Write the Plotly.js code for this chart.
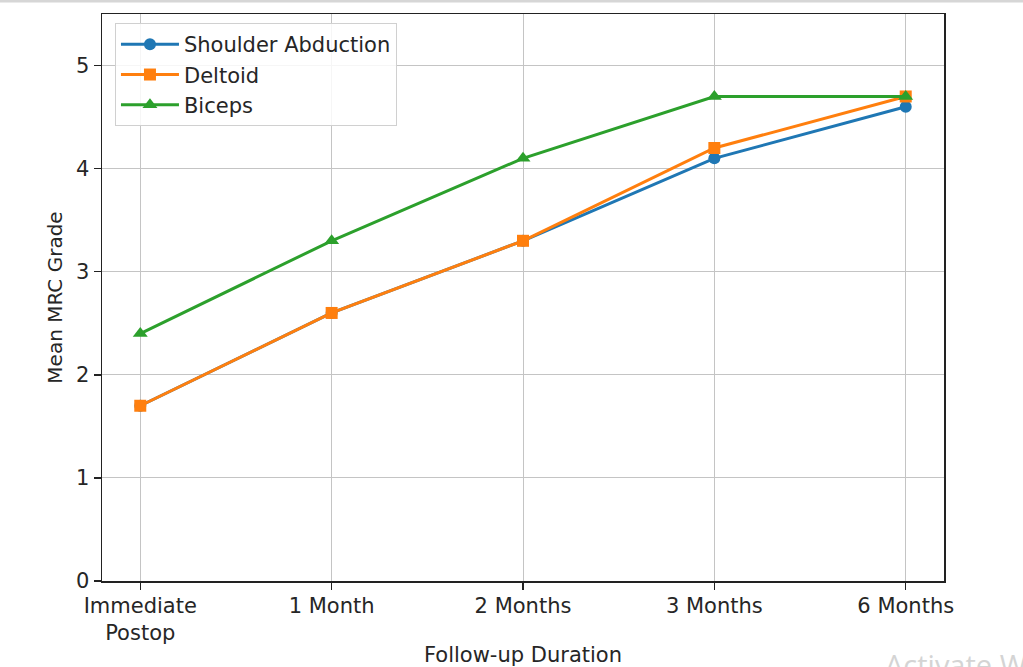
<!DOCTYPE html>
<html>
<head>
<meta charset="utf-8">
<script src="https://cdn.plot.ly/plotly-3.0.1.min.js"></script>
<style>
html,body{margin:0;padding:0;background:#fff;}
#chart{width:1023px;height:667px;}
</style>
</head>
<body>
<div id="chart"></div>
<script>
// Data
const categories = ["Immediate<br>Postop", "1 Month", "2 Months", "3 Months", "6 Months"];
const shoulderAbduction = [1.7, 2.6, 3.3, 4.1, 4.6];
const deltoid = [1.7, 2.6, 3.3, 4.2, 4.7];
const biceps = [2.4, 3.3, 4.1, 4.7, 4.7];
const seriesNames = ["Shoulder Abduction", "Deltoid", "Biceps"];
const yTicks = [0, 1, 2, 3, 4, 5];

const colors = ["#1f77b4", "#ff7f0e", "#2ca02c"];
const symbols = ["circle", "square", "triangle-up"];
const allSeries = [shoulderAbduction, deltoid, biceps];

const traces = allSeries.map((vals, i) => ({
  type: "scatter",
  mode: "lines+markers",
  x: categories,
  y: vals,
  name: seriesNames[i],
  line: {color: colors[i], width: 3},
  marker: {color: colors[i], symbol: symbols[i], size: i === 2 ? 13 : 12}
}));

const fam = "DejaVu Sans, sans-serif";
const txt = "#262626";

const layout = {
  width: 1023,
  height: 667,
  paper_bgcolor: "#ffffff",
  plot_bgcolor: "#ffffff",
  font: {family: fam, size: 21, color: txt},
  showlegend: true,
  margin: {l: 102, r: 79, t: 14, b: 86, pad: 0},
  xaxis: {
    type: "category",
    range: [-0.2, 4.2],
    showline: true, mirror: true, linecolor: "#222", linewidth: 1.5,
    ticks: "outside", ticklen: 7, tickcolor: "#222", tickwidth: 1.5,
    showgrid: true, gridcolor: "#c4c4c4", gridwidth: 1,
    zeroline: false,
    tickfont: {family: fam, size: 21, color: txt},
    ticklabelstandoff: -2,
    automargin: false,
    title: {text: "Follow-up Duration", font: {family: fam, size: 21, color: txt}, standoff: 8}
  },
  yaxis: {
    range: [0, 5.5],
    tickvals: yTicks,
    ticktext: yTicks.map(String),
    showline: true, mirror: true, linecolor: "#222", linewidth: 1.5,
    ticks: "outside", ticklen: 7, tickcolor: "#222", tickwidth: 1.5,
    showgrid: true, gridcolor: "#c4c4c4", gridwidth: 1,
    zeroline: false,
    tickfont: {family: fam, size: 21, color: txt},
    automargin: false,
    title: {text: "Mean MRC Grade", font: {family: fam, size: 20, color: txt}, standoff: 8}
  },
  legend: {
    x: 0.0154, y: 0.984, xanchor: "left", yanchor: "top",
    bgcolor: "rgba(255,255,255,0.85)",
    bordercolor: "#d0d0d0", borderwidth: 1,
    font: {family: fam, size: 21, color: txt},
    itemwidth: 58,
    tracegroupgap: 0
  },
  shapes: [{
    type: "rect", xref: "paper", yref: "paper",
    x0: -102/842, x1: (1023-102)/842,
    y0: 1 + 11.5/567, y1: 1 + 14.5/567,
    fillcolor: "#d6d6d6", line: {width: 0}
  }],
  annotations: [{
    text: "Activate Windows",
    xref: "paper", yref: "paper",
    x: (883-102)/842, y: -(643-581)/567,
    xanchor: "left", yanchor: "top",
    showarrow: false,
    font: {family: "Open Sans, sans-serif", size: 29, color: "#d4d4d4"}
  }]
};

Plotly.newPlot("chart", traces, layout, {displayModeBar: false, staticPlot: true});
</script>
</body>
</html>
